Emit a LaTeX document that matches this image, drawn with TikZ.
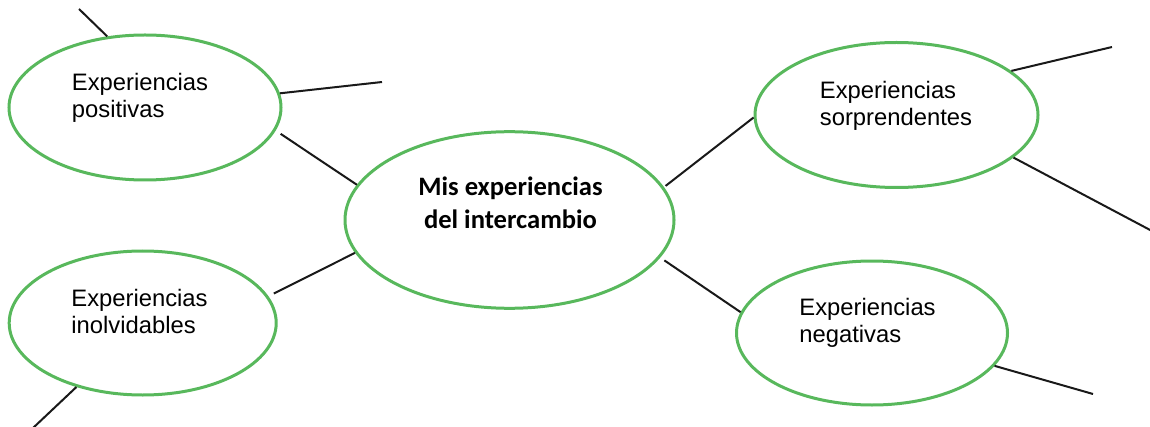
\documentclass[tikz,border=0pt]{standalone}
\usepackage{fontspec}
\setmainfont{Liberation Sans}
\newfontfamily\calib{Carlito}
\usetikzlibrary{shapes.geometric}
\definecolor{ellgreen}{RGB}{88,184,92}
\begin{document}
\begin{tikzpicture}[x=0.5pt,y=-0.5pt,
  bubble/.style={draw=ellgreen,line width=1.5pt,ellipse,inner sep=0pt},
  link/.style={line width=1pt,draw=black!90},
  lbl/.style={inner sep=0pt,anchor=base west,align=left,font=\fontsize{11.9pt}{13.5pt}\selectfont},
  title/.style={inner sep=0pt,anchor=base,align=center,font=\calib\bfseries\fontsize{13.3pt}{16.5pt}\selectfont}]
\useasboundingbox (0,0) rectangle (1150,427);
\node[bubble,minimum width=136pt,minimum height=72.5pt] (tl) at (145,107.5) {};
\node[bubble,minimum width=133.5pt,minimum height=72pt] (bl) at (142.7,323) {};
\node[bubble,minimum width=164.5pt,minimum height=88.3pt] (c) at (509.5,220) {};
\node[bubble,minimum width=141.5pt,minimum height=72.5pt] (tr) at (896.5,115) {};
\node[bubble,minimum width=135.5pt,minimum height=72pt] (br) at (872,333) {};

\node[lbl] (tltext) at (71.5,118) {Experiencias\\positivas};
\node[lbl] (bltext) at (71,333) {Experiencias\\inolvidables};
\node[lbl] (trtext) at (819.5,125.7) {Experiencias\\sorprendentes};
\node[lbl] (brtext) at (799,342.7) {Experiencias\\negativas};
\node[title] (ctext) at (510.5,228) {Mis experiencias\\del intercambio};

\coordinate (tlA) at (79,9);
\coordinate (tlB) at (382,82);
\coordinate (blA) at (33,428);
\coordinate (trA) at (1112,47);
\coordinate (trB) at (1152,231);
\coordinate (brA) at (1093,394);

\draw[link,shorten >=3pt] (c.167.5) -- (tl.-10.2);
\draw[link,shorten >=3pt] (c.-168.1) -- (bl.12.5);
\draw[link,shorten <=1pt] (c.12) -- (tr.181.1);
\draw[link,shorten <=2.5pt] (c.-14.4) -- (br.171.2);
\draw[link] (tl.118.3) -- (tlA);
\draw[link] (tl.6.1) -- (tlB);
\draw[link] (bl.-136.2) -- (blA);
\draw[link] (tr.21.2) -- (trA);
\draw[link] (tr.-20.9) -- (trB);
\draw[link] (br.-15.3) -- (brA);
\end{tikzpicture}
\end{document}
